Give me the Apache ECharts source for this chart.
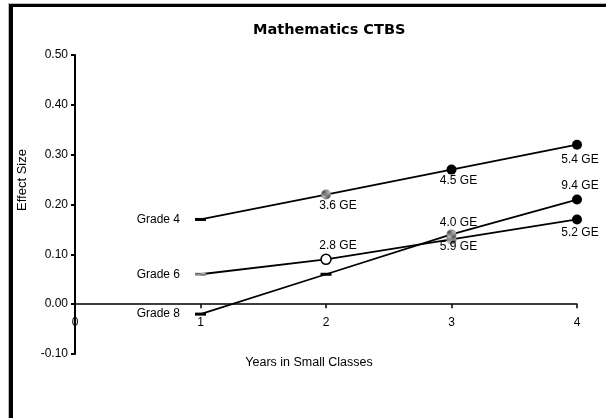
<!DOCTYPE html>
<html>
<head>
<meta charset="utf-8">
<script src="https://cdn.jsdelivr.net/npm/echarts@6/dist/echarts.min.js"></script>
<style>html,body{margin:0;padding:0;background:#fff;}#c{width:606px;height:418px;}</style>
</head>
<body>
<div id="c"></div>
<script>
// ---- data ----
const years = [1, 2, 3, 4];
const seriesNames = ['Grade 4', 'Grade 6', 'Grade 8'];
const grade4 = [0.17, 0.22, 0.27, 0.32];
const grade6 = [0.06, 0.09, 0.13, 0.17];
const grade8 = [-0.02, 0.06, 0.14, 0.21];
const grade4Labels = ['', '3.6 GE', '4.5 GE', '5.4 GE'];
const grade6Labels = ['', '2.8 GE', '5.9 GE', '5.2 GE'];
const grade8Labels = ['', '', '4.0 GE', '9.4 GE'];
const yTicks = [-0.10, 0.00, 0.10, 0.20, 0.30, 0.40, 0.50];
const xTicks = [0, 1, 2, 3, 4];

// ---- styles ----
const pat = document.createElement('canvas');
pat.width = 2; pat.height = 2;
const pc = pat.getContext('2d');
pc.fillStyle = '#c8c8c8'; pc.fillRect(0, 0, 2, 2);
pc.fillStyle = '#444'; pc.fillRect(0, 0, 1, 1); pc.fillRect(1, 1, 1, 1);
const hatch = { image: pat, repeat: 'repeat' };

const markerStyles = {
  dashBlack: { symbol: 'rect', symbolSize: [11, 3], itemStyle: { color: '#000' } },
  dashHatch: { symbol: 'rect', symbolSize: [11, 3], itemStyle: { color: hatch } },
  solid: { symbol: 'circle', symbolSize: 10, itemStyle: { color: '#000' } },
  hatched: { symbol: 'circle', symbolSize: 10, itemStyle: { color: hatch } },
  open: { symbol: 'circle', symbolSize: 10, itemStyle: { color: '#fff', borderColor: '#000', borderWidth: 1.5 } }
};
const seriesMarkers = [
  ['dashBlack', 'hatched', 'solid', 'solid'],
  ['dashHatch', 'open', 'hatched', 'solid'],
  ['dashBlack', 'dashBlack', 'hatched', 'solid']
];
const labelOffsets = [
  [null, [12, 11], [7, 11], [3, 15]],
  [null, [12, -14], [7, 7], [3, 13]],
  [null, null, [7, -12], [3, -14]]
];
const font = 'Liberation Sans, Arial, sans-serif';
const values = [grade4, grade6, grade8];
const labels = [grade4Labels, grade6Labels, grade8Labels];

const series = values.map((vals, s) => ({
  name: seriesNames[s],
  type: 'line',
  lineStyle: { color: '#000', width: 1.8 },
  itemStyle: { color: '#000' },
  showAllSymbol: true,
  animation: false,
  z: 3,
  data: years.map((x, i) => {
    const m = markerStyles[seriesMarkers[s][i]];
    const d = { value: [x, vals[i]], symbol: m.symbol, symbolSize: m.symbolSize, itemStyle: m.itemStyle };
    if (i === 0) {
      d.label = { show: true, position: 'left', distance: 15, formatter: seriesNames[s],
        color: '#000', fontSize: 12, fontFamily: font };
    } else if (labels[s][i]) {
      d.label = { show: true, position: 'inside', offset: labelOffsets[s][i], formatter: labels[s][i],
        color: '#000', fontSize: 12, fontFamily: font, textBorderWidth: 0 };
    }
    return d;
  })
}));

const chart = echarts.init(document.getElementById('c'), null, { renderer: 'canvas' });
chart.setOption({
  backgroundColor: '#fff',
  animation: false,
  grid: { left: 75, right: 29, top: 55, bottom: 64, containLabel: false },
  xAxis: {
    type: 'value', min: xTicks[0], max: xTicks[xTicks.length - 1], interval: 1,
    axisLine: { onZero: true, lineStyle: { color: '#000', width: 1.5 } },
    axisTick: { show: true, length: 4, lineStyle: { color: '#000', width: 1.5 } },
    axisLabel: { color: '#000', fontSize: 12, fontFamily: font, margin: -37 },
    splitLine: { show: false }
  },
  yAxis: {
    type: 'value', min: yTicks[0], max: yTicks[yTicks.length - 1], interval: 0.1,
    axisLine: { show: true, onZero: true, lineStyle: { color: '#000', width: 2 } },
    axisTick: { show: true, length: 4, lineStyle: { color: '#000', width: 2 } },
    axisLabel: { color: '#000', fontSize: 12, fontFamily: font, margin: 7,
      formatter: v => v.toFixed(2) },
    splitLine: { show: false }
  },
  graphic: [
    { type: 'rect', shape: { x: 8, y: 3, width: 598, height: 1 }, style: { fill: '#bbb' }, silent: true },
    { type: 'rect', shape: { x: 8, y: 3, width: 1, height: 415 }, style: { fill: '#bbb' }, silent: true },
    { type: 'rect', shape: { x: 9, y: 4, width: 597, height: 3 }, style: { fill: '#000' }, silent: true },
    { type: 'rect', shape: { x: 9, y: 4, width: 4, height: 414 }, style: { fill: '#000' }, silent: true },
    { type: 'text', left: 253, top: 23, style: { text: 'Mathematics CTBS', font: 'bold 14.5px DejaVu Sans', fill: '#000' } },
    { type: 'text', x: 309, y: 363, style: { text: 'Years in Small Classes', font: '12.5px ' + font, fill: '#000', align: 'center', verticalAlign: 'middle' } },
    { type: 'text', x: 22, y: 180, rotation: Math.PI / 2, style: { text: 'Effect Size', font: '13px ' + font, fill: '#000', align: 'center', verticalAlign: 'middle' } }
  ],
  series: series
});
</script>
</body>
</html>
